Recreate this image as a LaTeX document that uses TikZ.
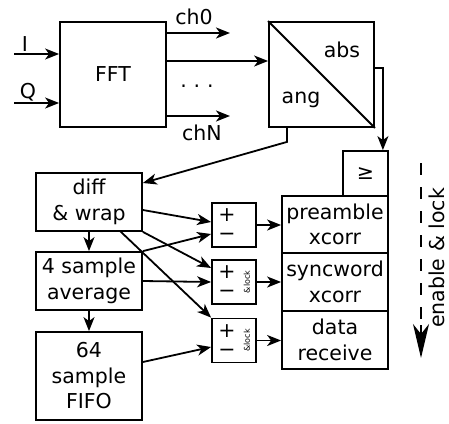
\documentclass[tikz,border=0pt]{standalone}
\usepackage{fontspec}
\setmainfont{DejaVu Sans}
\usetikzlibrary{arrows.meta}

\tikzset{
  blk/.style={draw, minimum width=106pt, align=center, inner sep=0pt},
  cmpbox/.style={draw, minimum width=44pt, minimum height=44pt, inner sep=0pt},
  arr/.style={-{Stealth[length=14pt,width=11pt,inset=4pt]}},
  lockfont/.style={font=\fontsize{8}{9}\selectfont, rotate=90, inner sep=0pt},
  signs/.style={align=center, inner sep=0pt, font=\fontsize{20.5}{19}\selectfont},
}

\begin{document}
\begin{tikzpicture}[x=1pt, y=-1pt, line width=1.8pt, font=\fontsize{20.5}{25.5}\selectfont]

    \useasboundingbox (0,0) rectangle (449,423);

    % FFT and abs/ang blocks
    \node[blk, minimum height=105pt] (fft) at (113,74.5) {FFT};
    \node[draw, minimum width=105pt, minimum height=105pt] (absang) at (321.5,74.5) {};
    \draw (absang.north west) -- (absang.south east);
    \node (abslbl) at (342,50) {abs};
    \node (anglbl) at (301,100) {ang};

    % inputs I and Q
    \coordinate (iin) at (14,54);
    \coordinate (qin) at (14,103);
    \draw[arr] (iin) -- (iin -| fft.west);
    \draw[arr] (qin) -- (qin -| fft.west);
    \node (ilbl) at (25,44) {I};
    \node (qlbl) at (28,92) {Q};

    % FFT outputs
    \coordinate (ch0end) at (230,33);
    \coordinate (chNend) at (230,116);
    \draw[arr] (ch0end -| fft.east) -- (ch0end);
    \draw[arr] (chNend -| fft.east) -- (chNend);
    \draw[arr] (fft.east |- 0,61) -- (absang.west |- 0,61);
    \node (ch0lbl) at (194,17) {ch0};
    \node (chNlbl) at (202,133) {chN};
    \node (dots) at (197,86) {.\,\,.\,\,.};

    % lower left chain
    \node[blk, minimum height=58pt] (diff) at (89,202) {diff\\\& wrap};
    \node[blk, minimum height=58pt] (avg) at (89,281) {4 sample\\average};
    \node[blk, minimum height=88pt] (fifo) at (89,376) {64\\sample\\FIFO};

    % comparators
    \node[cmpbox] (cmp1) at (234,225) {};
    \node[cmpbox] (cmp2) at (234,282) {};
    \node[cmpbox] (cmp3) at (234,340.5) {};
    \foreach \c in {cmp1,cmp2,cmp3}
        \node[signs] (\c sign) at ([xshift=-7pt]\c.center) {+\\−};
    \node[lockfont] (lock2) at ([xshift=13pt]cmp2.center) {\&lock};
    \node[lockfont] (lock3) at ([xshift=13pt]cmp3.center) {\&lock};

    % right column
    \node[blk, minimum height=45pt, minimum width=45pt] (ge) at (365.5,173.5) {≥};
    \node[blk, minimum height=57pt] (pre) at (335,224.5) {preamble\\xcorr};
    \node[blk, minimum height=58pt] (sync) at (335,282) {syncword\\xcorr};
    \node[blk, minimum height=58pt] (data) at (335,340) {data\\receive};

    % abs and ang outputs
    \draw[arr] (absang.east |- 0,68) -| ([xshift=-6pt]ge.north east);
    \draw[arr] (absang.south -| 287,0) -- ++(0,14) -- (diff.east |- 0,183);

    % chain arrows
    \draw[arr] (diff.south) -- (avg.north);
    \draw[arr] (avg.south) -- (fifo.north);

    % into the comparators
    \draw[arr] (diff.east |- 0,210) -- (cmp1.west |- 0,222);
    \draw[arr] (avg.north east) -- (cmp1.west |- 0,234);
    \draw[arr] (diff.south east) -- (cmp2.west |- 0,268);
    \draw[arr] (avg.east) -- (cmp2.west);
    \draw[arr] (120,231) -- (cmp3.north west);
    \draw[arr] (fifo.east |- 0,362) -- (cmp3.west |- 0,347);

    % comparators to blocks
    \draw[arr] (cmp1.east) -- (cmp1.east -| pre.west);
    \draw[arr] (cmp2.east) -- (cmp2.east -| sync.west);
    \draw[arr] (cmp3.east) -- (cmp3.east -| data.west);

    % enable & lock
    \coordinate (entop) at (421,163);
    \coordinate (enbot) at (421,358);
    \draw[dash pattern=on 12pt off 12pt, line width=1.5pt] (entop) -- ([yshift=30pt]enbot);
    \draw[-{Stealth[length=34pt,width=16pt,inset=10pt]}] ([yshift=33pt]enbot) -- (enbot);
    \node[rotate=90, inner sep=0pt] (enlbl) at (436.5,258) {enable \& lock};

\end{tikzpicture}
\end{document}
